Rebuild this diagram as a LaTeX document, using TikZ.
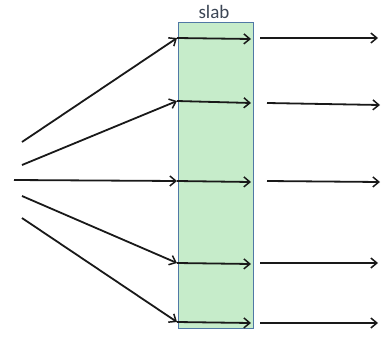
\documentclass[tikz,border=0pt]{standalone}
\usepackage{fontspec}
\setmainfont{Carlito}
\usetikzlibrary{arrows.meta}
\definecolor{slabfill}{RGB}{198,236,202}
\definecolor{slabedge}{RGB}{80,120,165}
\definecolor{labelcol}{RGB}{60,70,85}
\begin{document}
\begin{tikzpicture}[x=1pt,y=-1pt,
  ray/.style={line width=1.8pt,draw=black!90,-{Straight Barb[length=6pt,width=10pt,line width=1.5pt]}},
  slabbox/.style={draw=slabedge,line width=1.3pt,fill=slabfill}]
\useasboundingbox (0,0) rectangle (382,337);
\node[slabbox,minimum width=75pt,minimum height=306pt,inner sep=0pt,anchor=north west] (slab) at (178,22) {};
\node[font=\fontsize{19}{21}\selectfont,text=labelcol,anchor=base] (lbl) at (214,19) {slab};
% incoming sources
\coordinate (s1) at (22,142);
\coordinate (s2) at (22,165);
\coordinate (s3) at (14,180);
\coordinate (s4) at (22,196);
\coordinate (s5) at (22,218);
% entry points
\coordinate (e1) at (177,38);
\coordinate (e2) at (177,101);
\coordinate (e3) at (177,181);
\coordinate (e4) at (177,263);
\coordinate (e5) at (177,322);
% exit points
\coordinate (x1) at (251,39);
\coordinate (x2) at (251,103);
\coordinate (x3) at (251,182);
\coordinate (x4) at (251,264);
\coordinate (x5) at (251,323);
% outgoing
\coordinate (o1a) at (260,38); \coordinate (o1b) at (378,38);
\coordinate (o2a) at (267,103); \coordinate (o2b) at (380,105);
\coordinate (o3a) at (267,181); \coordinate (o3b) at (380,182);
\coordinate (o4a) at (260,263); \coordinate (o4b) at (378,263);
\coordinate (o5a) at (260,323); \coordinate (o5b) at (378,323);
\foreach \i in {1,...,5}{
  \draw[ray] (s\i) -- (e\i);
  \draw[ray] (e\i) -- (x\i);
  \draw[ray] (o\i a) -- (o\i b);
}
\end{tikzpicture}
\end{document}
